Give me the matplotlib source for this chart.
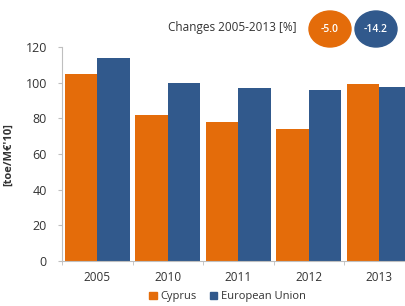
import numpy as np
import matplotlib
matplotlib.use("Agg")
import matplotlib.pyplot as plt
from matplotlib.patches import Ellipse, Patch

plt.rcParams['font.family'] = ['Open Sans', 'DejaVu Sans']

years = ['2005', '2010', '2011', '2012', '2013']
cyprus = [105, 82, 78, 74, 99.5]
eu = [114, 100, 97, 96, 97.5]
changes = [-5.0, -14.2]
series_names = ['Cyprus', 'European Union']

orange = '#E46C0A'
blue = '#31598C'
grey = '#BFBFBF'
txt = '#333333'

fig = plt.figure(figsize=(4.06, 3.06), dpi=100)
ax = fig.add_axes([0.153, 0.147, 0.868, 0.699])

x = np.arange(len(years))
w = 0.46
ax.bar(x - w / 2, cyprus, w, color=orange)
ax.bar(x + w / 2, eu, w, color=blue)

ax.set_xlim(-0.5, len(years) - 0.5)
ax.set_ylim(0, 120)
ax.set_yticks(range(0, 121, 20))
ax.set_xticks(x)
ax.set_xticklabels(years)
ax.set_xticks(np.arange(-0.5, len(years), 1), minor=True)
ax.tick_params(axis='x', which='major', length=0, pad=7, labelsize=8.5, colors=txt)
ax.tick_params(axis='x', which='minor', length=3, color=grey)
ax.tick_params(axis='y', length=3, pad=8, color=grey, labelsize=9, colors=txt)
for s in ['top', 'right']:
    ax.spines[s].set_visible(False)
ax.spines['left'].set_color(grey)
ax.spines['bottom'].set_color(grey)
ax.set_ylabel("[toe/M€'10]", fontsize=8, fontweight='bold', color=txt, labelpad=8)

# header with change circles
fig.text(232 / 406, 1 - 28 / 306, 'Changes 2005-2013 [%]', fontsize=8.5, color=txt,
         ha='center', va='center')
for cx, val, col in zip([330, 376], changes, [orange, blue]):
    e = Ellipse((cx / 100, (306 - 29) / 100), 0.42, 0.36, color=col,
                transform=fig.dpi_scale_trans)
    fig.add_artist(e)
    fig.text(cx / 406, 1 - 29 / 306, '%.1f' % val, fontsize=7.5, color='white',
             fontweight='semibold', ha='center', va='center')

handles = [Patch(color=orange), Patch(color=blue)]
fig.legend(handles, series_names, loc='center', bbox_to_anchor=(0.56, 0.03), ncol=2,
           frameon=False, fontsize=8, handlelength=0.7, handleheight=0.7,
           handletextpad=0.3, columnspacing=1.2, labelcolor=txt)

fig.savefig('out.png', dpi=100)
